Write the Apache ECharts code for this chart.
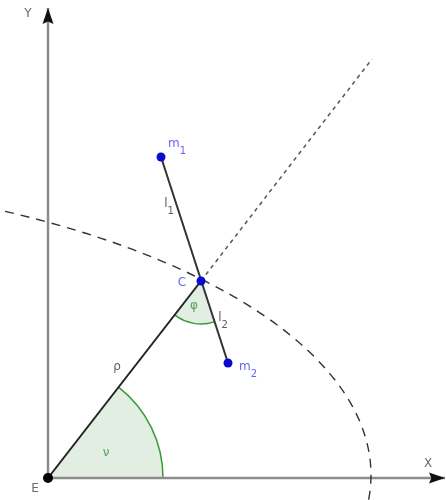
<!DOCTYPE html>
<html>
<head>
<meta charset="utf-8">
<script src="https://cdn.jsdelivr.net/npm/echarts@6/dist/echarts.min.js"></script>
<style>
html, body { margin: 0; padding: 0; background: #fff; }
#chart { width: 446px; height: 500px; }
</style>
</head>
<body>
<div id="chart"></div>
<script>
// figure points (data units, E is the origin)
var pointE = [0, 0]
var pointC = [153, 197]
var pointM1 = [113, 321]
var pointM2 = [180, 115]
var rayEnd = [324, 419]
var axisEndX = [397, 0]
var axisEndY = [0, 470]

// dashed arc (ellipse): center, semi axes, start / end angle in degrees
var arcCenter = [-377, 3]
var arcRadii = [700, 300]
var arcAngles = [61.5, -4.8]

// angle marks
var angleRadiusE = 115
var angleRadiusC = 43

// labels
var labelTexts = ['Y', 'X', 'E', 'C', 'm_1', 'm_2', 'l_1', 'l_2', 'ρ', 'φ', 'ν']
var labelCoords = [[-20, 463], [380, 13], [-13, -12], [134, 194], [129, 331], [200, 108],
  [121, 271], [175, 157], [69, 110], [146, 171], [58, 24]]
var labelKinds = ['axis', 'axis', 'axis', 'blue', 'blue', 'blue', 'dark', 'dark', 'dark', 'green', 'green']

var labelColors = { axis: '#444', blue: '#3b3bf0', dark: '#333', green: '#2f8f2f' }

function renderAngle(params, api) {
  var c = api.coord([api.value(0), api.value(1)])
  var p1 = api.coord([api.value(3), api.value(4)])
  var p2 = api.coord([api.value(5), api.value(6)])
  var r = api.size([api.value(2), 0])[0]
  var a1 = Math.atan2(p1[1] - c[1], p1[0] - c[0])
  var a2 = Math.atan2(p2[1] - c[1], p2[0] - c[0])
  return {
    type: 'group',
    children: [{
      type: 'sector',
      shape: { cx: c[0], cy: c[1], r0: 0, r: r, startAngle: a1, endAngle: a2, clockwise: true },
      style: { fill: '#e1eee1' }
    }, {
      type: 'arc',
      shape: { cx: c[0], cy: c[1], r: r, startAngle: a1, endAngle: a2, clockwise: true },
      style: { stroke: '#3a9a3a', lineWidth: 1.5, fill: null }
    }]
  }
}

function renderEllipse(params, api) {
  var cx = api.value(0), cy = api.value(1), ax = api.value(2), ay = api.value(3)
  var t1 = api.value(4) * Math.PI / 180
  var t2 = api.value(5) * Math.PI / 180
  var rx = api.size([ax, 0])[0]
  var ry = api.size([0, ay])[1]
  var s = api.coord([cx + ax * Math.cos(t1), cy + ay * Math.sin(t1)])
  var e = api.coord([cx + ax * Math.cos(t2), cy + ay * Math.sin(t2)])
  return {
    type: 'path',
    shape: { pathData: 'M' + s[0] + ' ' + s[1] + ' A' + rx + ' ' + ry + ' 0 0 1 ' + e[0] + ' ' + e[1] },
    style: { fill: null, stroke: '#333', lineWidth: 1.4, lineDash: [9, 7] }
  }
}

function renderArrow(params, api) {
  var tip = api.coord([api.value(0), api.value(1)])
  var from = api.coord([api.value(2), api.value(3)])
  var dx = tip[0] - from[0], dy = tip[1] - from[1]
  var len = Math.sqrt(dx * dx + dy * dy)
  dx /= len; dy /= len
  var L = 16, W = 5.5
  return {
    type: 'polygon',
    shape: {
      points: [
        tip,
        [tip[0] - dx * L - dy * W, tip[1] - dy * L + dx * W],
        [tip[0] - dx * L * 0.85, tip[1] - dy * L * 0.85],
        [tip[0] - dx * L + dy * W, tip[1] - dy * L - dx * W]
      ]
    },
    style: { fill: '#111' }
  }
}

function labelFormatter(p) {
  var parts = p.name.split('_')
  if (parts.length === 2) {
    return '{' + p.data.kind + '|' + parts[0] + '}{' + p.data.kind + 'Sub|' + parts[1] + '}'
  }
  return '{' + p.data.kind + '|' + p.name + '}'
}

var labelData = labelTexts.map(function (t, i) {
  return { name: t, value: labelCoords[i], kind: labelKinds[i] }
})

var rich = {}
Object.keys(labelColors).forEach(function (k) {
  rich[k] = { color: labelColors[k], fontSize: 12, lineHeight: 14, verticalAlign: 'top', fontFamily: 'DejaVu Sans' }
  rich[k + 'Sub'] = { color: labelColors[k], fontSize: 10, lineHeight: 18, verticalAlign: 'bottom', fontFamily: 'DejaVu Sans' }
})

var option = {
  animation: false,
  grid: { left: 0, right: 0, top: 0, bottom: 0 },
  xAxis: { type: 'value', min: -48, max: 398, show: false },
  yAxis: { type: 'value', min: -22, max: 478, show: false },
  series: [{
    // angle marks
    type: 'custom',
    z: 1,
    renderItem: renderAngle,
    data: [
      pointE.concat([angleRadiusE]).concat(pointC).concat(axisEndX),
      pointC.concat([angleRadiusC]).concat(pointM2).concat(pointE)
    ]
  }, {
    // axes
    type: 'line',
    z: 2,
    showSymbol: false,
    lineStyle: { color: '#8c8c8c', width: 2.5 },
    data: [axisEndY, pointE, axisEndX]
  }, {
    type: 'custom',
    z: 3,
    renderItem: renderArrow,
    data: [axisEndX.concat(pointE), axisEndY.concat(pointE)]
  }, {
    // dashed arc
    type: 'custom',
    z: 3,
    renderItem: renderEllipse,
    data: [arcCenter.concat(arcRadii).concat(arcAngles)]
  }, {
    // dashed continuation of rho
    type: 'line',
    z: 3,
    showSymbol: false,
    lineStyle: { color: '#555', width: 1.5, type: [4, 4] },
    data: [pointC, rayEnd]
  }, {
    // rho
    type: 'line',
    z: 4,
    showSymbol: false,
    lineStyle: { color: '#222', width: 2 },
    data: [pointE, pointC]
  }, {
    // rod m1 - m2
    type: 'line',
    z: 4,
    showSymbol: false,
    lineStyle: { color: '#333', width: 2 },
    data: [pointM1, pointM2]
  }, {
    type: 'scatter',
    z: 5,
    symbolSize: 9,
    itemStyle: { color: '#0a0ad0', opacity: 1 },
    data: [pointC, pointM1, pointM2]
  }, {
    type: 'scatter',
    z: 5,
    symbolSize: 10,
    itemStyle: { color: '#000', opacity: 1 },
    data: [pointE]
  }, {
    // labels
    type: 'scatter',
    z: 6,
    symbolSize: 0,
    label: {
      show: true,
      position: 'inside',
      formatter: labelFormatter,
      rich: rich
    },
    data: labelData
  }]
}

var chart = echarts.init(document.getElementById('chart'))
chart.setOption(option)
</script>
</body>
</html>
